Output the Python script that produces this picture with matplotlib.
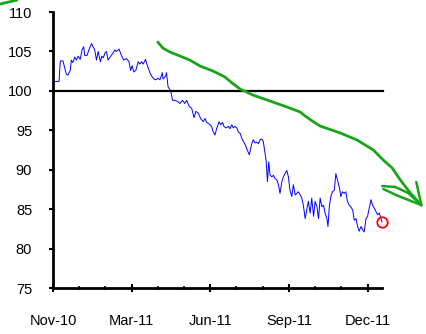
import matplotlib
matplotlib.use('Agg')
import matplotlib.pyplot as plt

plt.rcParams['font.family'] = ['Liberation Sans', 'DejaVu Sans']

# months since the first tick (Nov-10 label)
months = [0.00, 0.04, 0.23, 0.28, 0.38, 0.51, 0.57, 0.66, 0.70, 0.76, 0.83, 0.89, 0.96,
          1.04, 1.11, 1.17, 1.21, 1.30, 1.38, 1.47, 1.53, 1.59, 1.66, 1.72, 1.81, 1.86,
          1.92, 1.98, 2.04, 2.10, 2.20, 2.29, 2.36, 2.42, 2.52, 2.61, 2.70, 2.80, 2.90,
          2.96, 3.02, 3.08, 3.16, 3.25, 3.31, 3.38, 3.44, 3.53, 3.59, 3.70, 3.76, 3.85,
          3.92, 4.01, 4.08, 4.17, 4.20, 4.30, 4.33, 4.39, 4.49, 4.56, 4.65, 4.78, 4.84,
          4.94, 5.03, 5.10, 5.20, 5.29, 5.38, 5.45, 5.54, 5.63, 5.73, 5.80, 5.86, 5.96,
          6.05, 6.11, 6.18, 6.24, 6.34, 6.40, 6.47, 6.52, 6.60, 6.69, 6.75, 6.82, 6.88,
          6.94, 7.01, 7.07, 7.14, 7.20, 7.26, 7.33, 7.41, 7.49, 7.58, 7.64, 7.71, 7.77,
          7.83, 7.90, 7.96, 8.02, 8.09, 8.13, 8.18, 8.23, 8.28, 8.35, 8.41, 8.47, 8.54,
          8.60, 8.66, 8.73, 8.79, 8.85, 8.92, 8.98, 9.04, 9.11, 9.17, 9.24, 9.30, 9.36,
          9.43, 9.49, 9.55, 9.62, 9.68, 9.74, 9.81, 9.87, 9.94, 10.00, 10.07, 10.13,
          10.19, 10.26, 10.32, 10.38, 10.45, 10.49, 10.54, 10.60, 10.66, 10.73, 10.79,
          10.85, 10.92, 10.98, 11.04, 11.11, 11.17, 11.23, 11.30, 11.36, 11.43, 11.49,
          11.56, 11.62, 11.68, 11.75, 11.81, 11.87, 11.94, 12.00, 12.06, 12.13, 12.19,
          12.26, 12.32, 12.38, 12.45, 12.51, 12.55]
index = [100.0, 101.2, 101.2, 103.8, 103.8, 102.1, 102.0, 102.6, 103.9, 103.6, 104.3, 103.9, 104.4,
         104.0, 105.2, 105.6, 104.5, 104.5, 105.3, 106.0, 105.6, 105.2, 103.9, 105.0, 103.7, 104.4,
         104.2, 104.8, 105.0, 103.9, 104.4, 104.8, 105.2, 105.0, 105.3, 104.5, 103.9, 104.1, 103.7,
         102.6, 103.2, 102.4, 102.6, 103.7, 103.4, 103.7, 103.4, 104.0, 103.3, 102.3, 101.9, 101.5,
         101.4, 101.6, 101.4, 102.3, 101.5, 101.9, 102.3, 100.5, 100.0, 98.8, 98.8, 98.6, 98.4,
         98.8, 98.4, 98.8, 98.0, 97.8, 96.6, 97.4, 97.2, 96.5, 96.1, 96.5, 96.0, 95.8,
         95.5, 94.8, 94.4, 95.2, 96.1, 95.7, 96.0, 95.5, 95.3, 95.5, 95.2, 95.7, 95.3,
         95.5, 95.3, 94.8, 94.6, 94.0, 93.6, 93.2, 92.5, 91.9, 93.3, 93.8, 93.4, 93.5,
         93.3, 93.8, 93.9, 93.6, 92.1, 91.2, 88.5, 91.0, 89.3, 89.1, 89.3, 88.9, 88.7,
         88.1, 87.0, 88.5, 89.1, 89.5, 89.9, 89.1, 87.4, 86.6, 88.1, 86.8, 87.0, 87.2,
         86.8, 86.4, 85.5, 83.8, 84.9, 86.0, 84.5, 86.4, 84.1, 86.0, 85.3, 83.8,
         86.4, 85.3, 85.5, 84.5, 83.8, 82.8, 85.3, 86.6, 87.2, 87.4, 89.5,
         88.7, 87.8, 86.6, 87.2, 87.0, 87.2, 86.0, 85.5, 85.3, 84.9, 83.6,
         83.8, 82.8, 82.2, 82.8, 82.4, 82.1, 83.8, 84.1, 85.1, 86.2, 85.5,
         85.1, 84.7, 84.3, 84.5, 83.8, 83.4]

tick_months = [0, 3, 6, 9, 12]
tick_labels = ['Nov-10', 'Mar-11', 'Jun-11', 'Sep-11', 'Dec-11']
y_ticks = [75, 80, 85, 90, 95, 100, 105, 110]

# hand-drawn green trend arrow (in data units)
arrow_x = [4.00, 4.19, 4.46, 4.84, 5.22, 5.61, 6.10, 6.56, 6.83, 7.14, 7.63, 8.28, 8.93,
           9.43, 9.62, 9.89, 10.19, 10.96, 11.60, 12.22, 12.60, 12.94, 13.25, 13.63, 14.05]
arrow_y = [106.19, 105.43, 104.93, 104.42, 103.91, 103.15, 102.52, 101.76, 101.0, 100.23,
           99.47, 98.71, 97.95, 97.32, 96.81, 96.18, 95.54, 94.66, 93.77, 92.50, 91.23,
           90.22, 88.70, 87.05, 85.52]
head1_x = [13.86, 14.05]
head1_y = [88.44, 85.52]
head2_x = [12.56, 13.06, 13.55, 14.05]
head2_y = [87.93, 87.81, 87.05, 85.52]
head3_x = [12.60, 13.17, 14.05]
head3_y = [87.55, 86.67, 85.52]

fig = plt.figure(figsize=(4.27, 3.34), dpi=100)
ax = fig.add_axes([0.1241, 0.1377, 0.7705, 0.8263])

ax.plot(months, index, color='#0000ff', lw=0.7, clip_on=False)
ax.plot([0, 12.6], [100, 100], color='black', lw=1.6, clip_on=False)

green = '#19a519'
ax.plot(arrow_x, arrow_y, color=green, lw=2.0, clip_on=False, solid_capstyle='round')
for hx, hy in [(head1_x, head1_y), (head2_x, head2_y), (head3_x, head3_y)]:
    ax.plot(hx, hy, color=green, lw=1.8, clip_on=False, solid_capstyle='round')
ax.plot([-2.04, -1.39], [111.0, 111.5], color=green, lw=2.0, clip_on=False)

ax.plot([months[-1]], [index[-1]], 'o', mfc='none', mec='red', ms=7.5, mew=1.3, clip_on=False)

ax.set_xlim(0, 12.55)
ax.set_ylim(75, 110)
ax.set_xticks(tick_months)
ax.set_xticklabels(tick_labels)
ax.set_xticks(range(0, 13), minor=True)
ax.set_yticks(y_ticks)

for s in ['top', 'right']:
    ax.spines[s].set_visible(False)
for s in ['left', 'bottom']:
    ax.spines[s].set_linewidth(2.0)

ax.tick_params(axis='y', direction='out', length=3, width=1.5, pad=12, labelsize=10.5)
ax.tick_params(axis='x', which='major', direction='inout', length=6, width=1.5, pad=16, labelsize=10.5)
ax.tick_params(axis='x', which='minor', direction='inout', length=3, width=1.2)

fig.savefig('out.png', dpi=100)
